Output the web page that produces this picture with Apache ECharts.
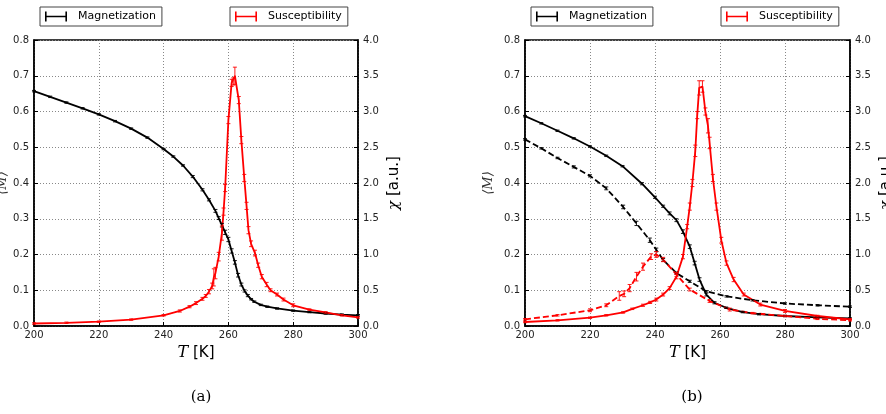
<!DOCTYPE html>
<html style="height: 100%">
<head>
<meta charset="utf-8" />
</head>
<body style="height: 100%; margin: 0; background: #fff">
<div id="container" style="width: 886px; height: 414px"></div>
<script src="https://cdn.jsdelivr.net/npm/echarts@6/dist/echarts.min.js"></script>
<script>
// ---- panel (a) ----
var aMagT = [200, 205, 210, 215, 220, 225, 230, 235, 240, 243, 246, 249, 252, 254, 256, 257, 258, 259, 260, 261, 262, 263, 264, 265, 266, 267, 268, 270, 272, 275, 280, 285, 290, 295, 300];
var aMag = [0.657, 0.641, 0.625, 0.609, 0.592, 0.573, 0.552, 0.527, 0.495, 0.474, 0.449, 0.418, 0.381, 0.353, 0.322, 0.302, 0.282, 0.262, 0.242, 0.21, 0.178, 0.142, 0.116, 0.098, 0.085, 0.075, 0.068, 0.059, 0.054, 0.049, 0.043, 0.039, 0.035, 0.032, 0.03];
var aMagErr = [0.002, 0.002, 0.002, 0.002, 0.002, 0.002, 0.002, 0.002, 0.002, 0.002, 0.002, 0.003, 0.003, 0.003, 0.004, 0.004, 0.005, 0.006, 0.006, 0.006, 0.005, 0.005, 0.004, 0.003, 0.003, 0.002, 0.002, 0.002, 0.002, 0.002, 0.002, 0.002, 0.002, 0.002, 0.002];

var aSusT = [200, 210, 220, 230, 240, 245, 248, 250, 252, 253, 254, 255, 255.5, 256, 257, 258, 258.5, 259, 260, 261, 261.5, 262, 263.2, 264, 264.9, 265.6, 266.2, 267, 268.2, 269.2, 270.3, 271.8, 273, 275, 277, 280, 285, 290, 295, 300];
var aSus = [0.035, 0.045, 0.06, 0.09, 0.15, 0.21, 0.27, 0.32, 0.38, 0.42, 0.48, 0.56, 0.68, 0.74, 0.97, 1.3, 1.6, 1.93, 2.88, 3.4, 3.42, 3.5, 3.16, 2.6, 2.07, 1.68, 1.34, 1.15, 1.02, 0.85, 0.69, 0.58, 0.5, 0.44, 0.37, 0.29, 0.23, 0.19, 0.15, 0.12];
var aSusErr = [0.01, 0.01, 0.01, 0.01, 0.01, 0.015, 0.015, 0.02, 0.02, 0.02, 0.03, 0.04, 0.12, 0.08, 0.06, 0.1, 0.05, 0.05, 0.05, 0.05, 0.05, 0.12, 0.05, 0.05, 0.05, 0.05, 0.05, 0.04, 0.04, 0.03, 0.03, 0.03, 0.02, 0.02, 0.02, 0.02, 0.01, 0.01, 0.01, 0.01];

// ---- panel (b) ----
var bMagT = [200, 205, 210, 215, 220, 225, 230, 236, 240, 242.5, 244.5, 246.6, 248.6, 250.7, 252.2, 253.7, 255.8, 258.3, 261.9, 267, 272, 280, 290, 300];
var bMag = [0.587, 0.567, 0.546, 0.525, 0.502, 0.476, 0.447, 0.398, 0.36, 0.335, 0.315, 0.296, 0.264, 0.222, 0.176, 0.13, 0.088, 0.065, 0.051, 0.039, 0.033, 0.028, 0.024, 0.021];
var bMagErr = [0.002, 0.002, 0.002, 0.002, 0.002, 0.002, 0.002, 0.003, 0.003, 0.003, 0.004, 0.004, 0.005, 0.005, 0.005, 0.005, 0.004, 0.003, 0.002, 0.002, 0.002, 0.002, 0.002, 0.002];

var bMagDT = [200, 205, 210, 215, 220, 225, 230.2, 234.3, 238.4, 240.4, 242.5, 246.6, 250.7, 255.8, 262, 270, 280, 290, 300];
var bMagD = [0.522, 0.497, 0.47, 0.445, 0.42, 0.385, 0.333, 0.287, 0.24, 0.213, 0.185, 0.148, 0.125, 0.097, 0.083, 0.072, 0.063, 0.058, 0.054];
var bMagDErr = [0.002, 0.002, 0.002, 0.003, 0.003, 0.004, 0.005, 0.006, 0.006, 0.005, 0.004, 0.003, 0.003, 0.002, 0.002, 0.002, 0.002, 0.002, 0.002];

var bSusT = [200, 210, 220, 225, 230.2, 233, 236.3, 238.5, 240.4, 242.5, 244.5, 246.6, 248.6, 249.9, 250.7, 251.5, 252.4, 253, 253.6, 254.6, 255.5, 256.3, 256.8, 257.8, 258.9, 260.4, 262, 264.2, 267.3, 272.4, 280, 290, 300];
var bSus = [0.056, 0.08, 0.116, 0.15, 0.19, 0.24, 0.29, 0.33, 0.37, 0.44, 0.53, 0.69, 0.97, 1.39, 1.67, 2.0, 2.45, 2.95, 3.33, 3.35, 3.0, 2.8, 2.56, 2.07, 1.67, 1.2, 0.88, 0.65, 0.44, 0.3, 0.21, 0.14, 0.093];
var bSusErr = [0.01, 0.01, 0.01, 0.01, 0.01, 0.01, 0.015, 0.015, 0.02, 0.02, 0.02, 0.03, 0.03, 0.03, 0.05, 0.05, 0.08, 0.05, 0.1, 0.08, 0.05, 0.1, 0.08, 0.05, 0.05, 0.04, 0.03, 0.03, 0.02, 0.02, 0.02, 0.01, 0.01];

var bSusDT = [200, 210, 220, 225, 229, 230.5, 232.2, 234.3, 236.3, 238.8, 240.4, 242.5, 246.6, 250.7, 256.8, 263, 270, 280, 290, 300];
var bSusD = [0.093, 0.15, 0.22, 0.29, 0.42, 0.45, 0.53, 0.69, 0.83, 0.97, 1.0, 0.93, 0.72, 0.51, 0.35, 0.23, 0.18, 0.14, 0.1, 0.08];
var bSusDErr = [0.01, 0.01, 0.02, 0.02, 0.06, 0.04, 0.05, 0.06, 0.05, 0.04, 0.04, 0.03, 0.03, 0.02, 0.02, 0.02, 0.01, 0.01, 0.01, 0.01];

var BLACK = '#000000';
var RED = '#ff0000';

function pts(t, v, e) {
    return t.map(function (x, i) { return e ? [x, v[i], e[i]] : [x, v[i]]; });
}

function lineSeries(name, t, v, color, dashed, xi, yi) {
    return {
        name: name, type: 'line', xAxisIndex: xi, yAxisIndex: yi,
        data: pts(t, v), showSymbol: false, silent: true, animation: false,
        lineStyle: { color: color, width: 1.8, type: dashed ? [6, 3] : 'solid' },
        itemStyle: { color: color }, z: 3
    };
}

function errSeries(name, t, v, e, color, xi, yi) {
    return {
        name: name, type: 'custom', xAxisIndex: xi, yAxisIndex: yi,
        data: pts(t, v, e), silent: true, animation: false, z: 4,
        encode: { x: 0, y: 1 },
        renderItem: function (params, api) {
            var x = api.value(0), y = api.value(1), d = api.value(2);
            var lo = api.coord([x, y - d]), hi = api.coord([x, y + d]);
            var w = 2;
            var st = { stroke: color, lineWidth: 0.9 };
            return {
                type: 'group', children: [
                    { type: 'line', shape: { x1: lo[0], y1: lo[1], x2: hi[0], y2: hi[1] }, style: st },
                    { type: 'line', shape: { x1: lo[0] - w, y1: lo[1], x2: lo[0] + w, y2: lo[1] }, style: st },
                    { type: 'line', shape: { x1: hi[0] - w, y1: hi[1], x2: hi[0] + w, y2: hi[1] }, style: st }
                ]
            };
        }
    };
}

var ERR_ICON = 'path://M0,0h1.6v10h-1.6z M0,4.3h22v1.4h-22z M20.4,0h1.6v10h-1.6z';
function legendBox(name, color, left) {
    return {
        left: left, top: 7, orient: 'horizontal',
        padding: [4, 6, 4, 5], itemWidth: 22, itemHeight: 11, itemGap: 0,
        borderColor: '#444', borderWidth: 1, borderRadius: 0,
        selectedMode: false,
        textStyle: { fontFamily: 'DejaVu Sans', fontSize: 11, color: '#000', padding: [0, 0, 0, 6] },
        data: [{ name: name, icon: ERR_ICON, itemStyle: { color: color } }]
    };
}

var labelFont = { fontFamily: 'DejaVu Sans', fontSize: 10, color: '#222' };
var gridLine = { show: true, lineStyle: { color: '#888', type: [1, 2], width: 1 } };

function xAxisFor(gi) {
    return {
        type: 'value', gridIndex: gi, min: 200, max: 300, interval: 20,
        name: '{i|T} [K]', nameLocation: 'middle', nameGap: 18,
        nameTextStyle: {
            fontFamily: 'DejaVu Sans', fontSize: 15, color: '#000',
            rich: { i: { fontFamily: 'DejaVu Serif', fontStyle: 'italic', fontSize: 16, color: '#000' } }
        },
        axisLine: { show: true, lineStyle: { color: '#000', width: 1.5 } },
        axisTick: { show: true, inside: true, length: 4, lineStyle: { color: '#000' } },
        axisLabel: Object.assign({ margin: 4 }, labelFont),
        splitLine: gridLine
    };
}

function leftAxis(gi, gap) {
    return {
        type: 'value', gridIndex: gi, position: 'left', min: 0, max: 0.8, interval: 0.1,
        name: '⟨M⟩', nameLocation: 'middle', nameGap: gap, nameRotate: 90,
        nameTextStyle: { fontFamily: 'DejaVu Serif', fontStyle: 'italic', fontSize: 13, color: '#333' },
        axisLine: { show: true, lineStyle: { color: '#000', width: 1.5 } },
        axisTick: { show: true, inside: true, length: 4, lineStyle: { color: '#000' } },
        axisLabel: Object.assign({ margin: 5, formatter: function (v) { return v.toFixed(1); } }, labelFont),
        splitLine: gridLine
    };
}

function rightAxis(gi) {
    return {
        type: 'value', gridIndex: gi, position: 'right', min: 0, max: 4, interval: 0.5,
        name: '{i|χ} [a.u.]', nameLocation: 'middle', nameGap: 29, nameRotate: 90,
        nameTextStyle: {
            fontFamily: 'DejaVu Sans', fontSize: 15, color: '#000',
            rich: { i: { fontFamily: 'DejaVu Serif', fontStyle: 'italic', fontSize: 15, color: '#000' } }
        },
        axisLine: { show: true, lineStyle: { color: '#000', width: 1.5 } },
        axisTick: { show: true, inside: true, length: 4, lineStyle: { color: '#000' } },
        axisLabel: Object.assign({ margin: 5, formatter: function (v) { return v.toFixed(1); } }, labelFont),
        splitLine: { show: false }
    };
}

var chart = echarts.init(document.getElementById('container'), null, { renderer: 'canvas' });

var option = {
    backgroundColor: '#fff',
    animation: false,
    title: [
        { text: '(a)', left: 196, top: 385, textAlign: 'center', textStyle: { fontFamily: 'DejaVu Serif', fontSize: 15, fontWeight: 'normal', color: '#000' } },
        { text: '(b)', left: 687, top: 385, textAlign: 'center', textStyle: { fontFamily: 'DejaVu Serif', fontSize: 15, fontWeight: 'normal', color: '#000' } }
    ],
    legend: [
        legendBox('Magnetization', BLACK, 40),
        legendBox('Susceptibility', RED, 230),
        legendBox('Magnetization', BLACK, 531),
        legendBox('Susceptibility', RED, 721)
    ],
    grid: [
        { left: 34, width: 324, top: 40, height: 286, outerBoundsMode: 'none', containLabel: false, show: true, borderColor: '#000', borderWidth: 1.5, backgroundColor: 'transparent' },
        { left: 525, width: 325, top: 40, height: 286, outerBoundsMode: 'none', containLabel: false, show: true, borderColor: '#000', borderWidth: 1.5, backgroundColor: 'transparent' }
    ],
    xAxis: [xAxisFor(0), xAxisFor(1)],
    yAxis: [leftAxis(0, 24), rightAxis(0), leftAxis(1, 30), rightAxis(1)],
    series: [
        lineSeries('Magnetization', aMagT, aMag, BLACK, false, 0, 0),
        errSeries('Magnetization', aMagT, aMag, aMagErr, BLACK, 0, 0),
        lineSeries('Susceptibility', aSusT, aSus, RED, false, 0, 1),
        errSeries('Susceptibility', aSusT, aSus, aSusErr, RED, 0, 1),

        lineSeries('Magnetization', bMagT, bMag, BLACK, false, 1, 2),
        errSeries('Magnetization', bMagT, bMag, bMagErr, BLACK, 1, 2),
        lineSeries('Magnetization', bMagDT, bMagD, BLACK, true, 1, 2),
        errSeries('Magnetization', bMagDT, bMagD, bMagDErr, BLACK, 1, 2),
        lineSeries('Susceptibility', bSusT, bSus, RED, false, 1, 3),
        errSeries('Susceptibility', bSusT, bSus, bSusErr, RED, 1, 3),
        lineSeries('Susceptibility', bSusDT, bSusD, RED, true, 1, 3),
        errSeries('Susceptibility', bSusDT, bSusD, bSusDErr, RED, 1, 3)
    ]
};

chart.setOption(option);
window.addEventListener('resize', chart.resize);
</script>
</body>
</html>
